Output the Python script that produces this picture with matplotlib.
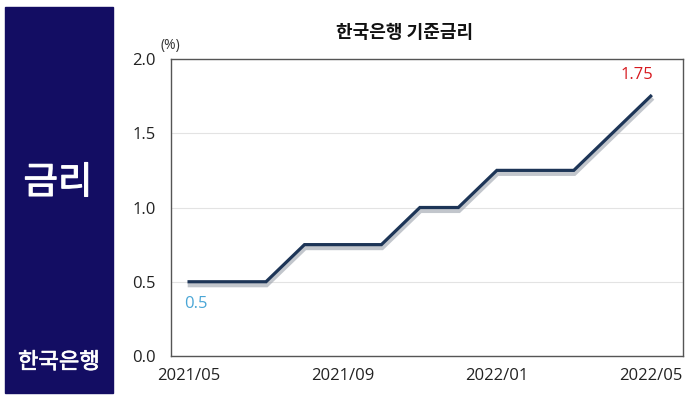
import matplotlib.pyplot as plt
import matplotlib.patheffects as pe
from matplotlib.patches import Rectangle

plt.rcParams['font.family'] = ['Noto Sans CJK KR', 'DejaVu Sans']
num_font = ['Open Sans', 'Noto Sans CJK KR']

# 기준금리 (월별)
months = ['2021/05', '2021/06', '2021/07', '2021/08', '2021/09', '2021/10', '2021/11',
          '2021/12', '2022/01', '2022/02', '2022/03', '2022/04', '2022/05']
rates = [0.5, 0.5, 0.5, 0.75, 0.75, 0.75, 1.0, 1.0, 1.25, 1.25, 1.25, 1.5, 1.75]
tick_labels = ['2021/05', '2021/09', '2022/01', '2022/05']
y_ticks = [0.0, 0.5, 1.0, 1.5, 2.0]

fig = plt.figure(figsize=(6.87, 4.0), dpi=100)

# 왼쪽 남색 패널
fig.patches.append(Rectangle((5 / 687, 7 / 400), 108 / 687, 386 / 400,
                             transform=fig.transFigure, color='#130d63', zorder=0))
fig.text(58 / 687, 1 - 183 / 400, '금리', color='white', fontsize=27,
         ha='center', va='center',
         path_effects=[pe.withStroke(linewidth=0.8, foreground='white')])
fig.text(59 / 687, 1 - 362 / 400, '한국은행', color='white', fontsize=16,
         ha='center', va='center',
         path_effects=[pe.withStroke(linewidth=0.5, foreground='white')])

ax = fig.add_axes([171 / 687, 1 - 356 / 400, 512 / 687, 297 / 400])
x = list(range(len(months)))
ax.plot(x, rates, color='#1d3557', lw=2.3, solid_joinstyle='miter',
        path_effects=[pe.SimpleLineShadow(offset=(0.5, -2.5), shadow_color='#9aa0aa',
                                          alpha=0.6, linewidth=3.0),
                      pe.Normal()])

ax.set_xlim(-0.47, 12.84)
ax.set_ylim(0, 2.0)
ax.set_xticks([months.index(t) for t in tick_labels])
ax.set_xticklabels(tick_labels, family=num_font)
ax.set_yticks(y_ticks)
ax.set_yticklabels([f'{v:.1f}' for v in y_ticks], family=num_font)
ax.tick_params(length=0, labelsize=12, colors='#222222', pad=11)
ax.tick_params(axis='x', pad=9)
ax.grid(axis='y', color='#e3e3e3', lw=0.8)
ax.set_axisbelow(True)
for s in ax.spines.values():
    s.set_color('#555555')
    s.set_linewidth(1.0)

ax.text(-0.75, 2.04, '(%)', fontsize=10, color='#333333', family=num_font,
        ha='left', va='bottom')

ax.text(x[0] + 0.18, rates[0] - 0.15, f'{rates[0]:g}', color='#4aa6d6', fontsize=12,
        family=num_font, ha='center', va='center')
ax.text(x[-1] - 0.35, rates[-1] + 0.14, f'{rates[-1]:g}', color='#d7191f', fontsize=12,
        family=num_font, ha='center', va='center')

fig.text(405 / 687, 1 - 33 / 400, '한국은행 기준금리', fontsize=13, fontweight='bold',
         ha='center', va='center', color='#111111')

fig.savefig('out.png', dpi=100)
